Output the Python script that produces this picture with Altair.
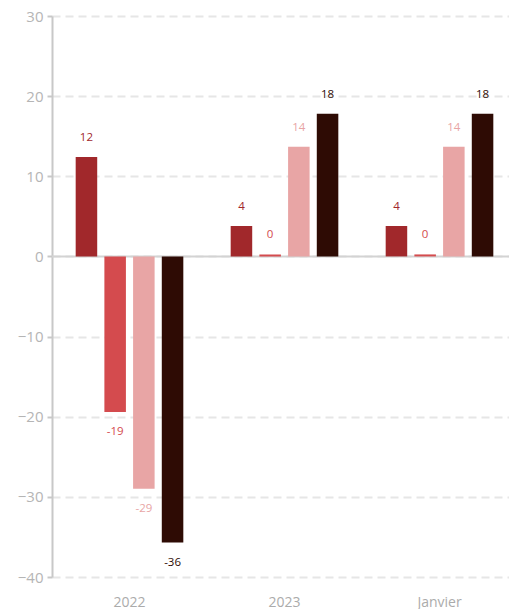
import altair as alt
import pandas as pd

groups = ["2022", "2023", "Janvier"]
series = ["Série 1", "Série 2", "Série 3", "Série 4"]
colors = ["#A1282B", "#D44B4E", "#E8A5A5", "#2E0B04"]
serie1 = [12.4, 3.8, 3.8]
serie2 = [-19.4, 0.25, 0.25]
serie3 = [-29.0, 13.7, 13.7]
serie4 = [-35.7, 17.8, 17.8]
y_ticks = [-40, -30, -20, -10, 0, 10, 20, 30]

rows = []
for s, vals in zip(series, [serie1, serie2, serie3, serie4]):
    for g, v in zip(groups, vals):
        rows.append({"groupe": g, "serie": s, "valeur": v, "label": str(int(round(v)))})
df = pd.DataFrame(rows)

font = "Open Sans"
xenc = alt.X("groupe:N", sort=groups,
             scale=alt.Scale(paddingInner=0, paddingOuter=0, range=[0, 465]),
             axis=alt.Axis(title=None, domain=False, ticks=False, labelAngle=0,
                           labelPadding=18, labelFontSize=14, labelColor="#ABABAB",
                           labelFont=font, grid=False))
xoff = alt.XOffset("serie:N", sort=series,
                   scale=alt.Scale(paddingInner=0.25, paddingOuter=0.825))
color = alt.Color("serie:N", sort=series,
                  scale=alt.Scale(domain=series, range=colors), legend=None)
yscale = alt.Scale(domain=[-40, 30], nice=False)

base = alt.Chart(df)

bars = base.mark_bar().encode(
    x=xenc, xOffset=xoff, color=color,
    y=alt.Y("valeur:Q", scale=yscale,
            axis=alt.Axis(title=None, values=y_ticks, grid=True, gridDash=[8, 5],
                          gridColor="#E6E6E6", gridWidth=2, domainColor="#C8C8C8",
                          domainWidth=2, tickColor="#C8C8C8", tickSize=5, tickWidth=2,
                          labelFontSize=15, labelColor="#B5B5B5", labelFont=font,
                          labelPadding=4)),
)

zero = alt.Chart(pd.DataFrame({"z": [0]})).mark_rule(color="#D3D3D3", strokeWidth=2).encode(
    y=alt.Y("z:Q", scale=yscale)
)

pos = base.transform_filter("datum.valeur >= 0").mark_text(
    dy=-19, baseline="middle", fontSize=11.5, font=font).encode(
    x=xenc, xOffset=xoff, y=alt.Y("valeur:Q", scale=yscale), text="label:N",
    color=color)
neg = base.transform_filter("datum.valeur < 0").mark_text(
    dy=20, baseline="middle", fontSize=11.5, font=font).encode(
    x=xenc, xOffset=xoff, y=alt.Y("valeur:Q", scale=yscale), text="label:N",
    color=color)

chart = alt.layer(zero, bars, pos, neg).properties(
    width=457, height=561,
    autosize=alt.AutoSizeParams(type="none"),
    padding={"left": 44, "top": 8, "right": 0, "bottom": 36},
).configure_view(stroke=None)

chart.save("out.html", embed_options={"renderer": "svg", "actions": False})
